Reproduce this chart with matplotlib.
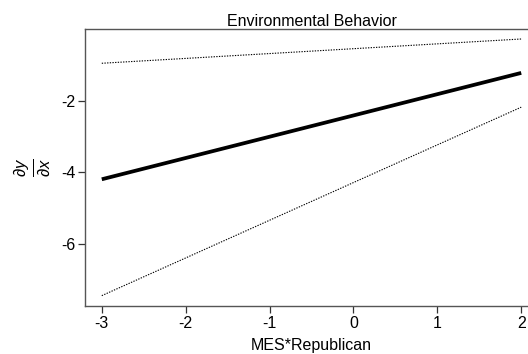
import matplotlib
matplotlib.use("Agg")
import matplotlib.pyplot as plt

plt.rcParams['font.family'] = ['Liberation Sans', 'DejaVu Sans']
plt.rcParams['mathtext.fontset'] = 'custom'
plt.rcParams['mathtext.rm'] = 'Liberation Sans'
plt.rcParams['mathtext.it'] = 'Liberation Sans:italic'

# Marginal effect of MES across Republican, with confidence bounds
mes_rep = [-3, 2]
effect = [-4.19, -1.21]
upper = [-0.94, -0.26]
lower = [-7.45, -2.17]

xticks = [-3, -2, -1, 0, 1, 2]
yticks = [-6, -4, -2]

fig = plt.figure(figsize=(5.28, 3.54), dpi=100)
ax = fig.add_axes([85 / 528, 1 - 306 / 354, 453 / 528, 277 / 354])

ax.plot(mes_rep, effect, color='black', lw=2.7, solid_capstyle='butt')
ax.plot(mes_rep, upper, color='black', lw=0.8, ls=(0, (1.2, 1.2)))
ax.plot(mes_rep, lower, color='black', lw=0.8, ls=(0, (1.2, 1.2)))

ax.set_xlim(-3.2, 2.2)
ax.set_ylim(-7.74, 0.02)
ax.set_xticks(xticks)
ax.set_yticks(yticks)
ax.set_xticklabels([str(v) for v in xticks])
ax.set_yticklabels([str(v) for v in yticks])

for s in ax.spines.values():
    s.set_color('#555555')
    s.set_linewidth(1.0)
ax.tick_params(axis='both', length=5, width=0.9, color='#333333',
               labelsize=11.5, pad=2)

ax.set_title('Environmental Behavior', fontsize=11.5, pad=2)
ax.set_xlabel('MES*Republican', fontsize=11.5, labelpad=5)
fig.text(32 / 528, 1 - 167 / 354, r'$\frac{\partial y}{\partial x}$',
         rotation=90, ha='center', va='center', fontsize=17)

fig.savefig('out.png', dpi=100)
